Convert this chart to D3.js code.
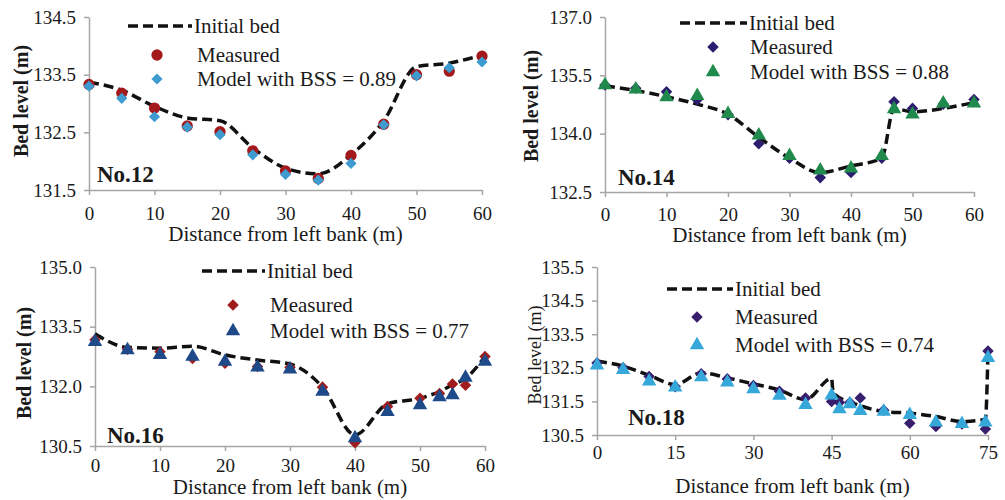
<!DOCTYPE html>
<html>
<head>
<meta charset="utf-8">
<script src="https://cdn.jsdelivr.net/npm/d3@7"></script>
<style>
  body { margin: 0; background: #fff; }
  svg { display: block; }
  svg text { font-family: 'Liberation Serif', 'Times New Roman', serif; }
</style>
</head>
<body>
<svg id="chart" width="1005" height="500"></svg>
<script>
// No.12
const dist12 = [0, 5, 10, 15, 20, 25, 30, 35, 40, 45, 50, 55, 60];
const bed12 = [133.37, 133.23, 132.95, 132.75, 132.7, 132.23, 131.88, 131.78, 132.11, 132.7, 133.64, 133.7, 133.84];
const meas12 = [133.33, 133.18, 132.92, 132.61, 132.51, 132.18, 131.83, 131.7, 132.1, 132.64, 133.5, 133.56, 133.82];
const model12 = [133.3, 133.09, 132.77, 132.59, 132.46, 132.11, 131.77, 131.67, 131.96, 132.63, 133.48, 133.62, 133.72];

// No.14
const dist14 = [0, 5, 10, 15, 20, 25, 30, 35, 40, 45, 47, 50, 55, 60];
const bed14 = [135.23, 135.11, 134.95, 134.76, 134.5, 133.91, 133.37, 133.0, 133.17, 133.37, 134.65, 134.56, 134.65, 134.8];
const meas14 = [135.25, 135.17, 135.08, 134.87, 134.49, 133.74, 133.37, 132.87, 133.0, 133.37, 134.82, 134.65, 134.76, 134.88];
const model14 = [135.25, 135.14, 134.94, 134.97, 134.51, 133.96, 133.43, 133.06, 133.11, 133.43, 134.63, 134.5, 134.78, 134.78];

// No.16
const dist16 = [0, 5, 10, 15, 20, 25, 30, 35, 40, 45, 50, 53, 55, 57, 60];
const bed16 = [133.32, 132.98, 132.96, 133.01, 132.79, 132.66, 132.56, 131.98, 130.78, 131.56, 131.7, 131.87, 132.04, 132.2, 132.75];
const meas16 = [133.17, 132.93, 132.87, 132.7, 132.58, 132.5, 132.48, 131.98, 130.58, 131.49, 131.7, 131.82, 132.06, 132.03, 132.75];
const model16 = [133.12, 132.91, 132.79, 132.75, 132.62, 132.48, 132.43, 131.87, 130.7, 131.36, 131.53, 131.73, 131.78, 132.22, 132.62];

// No.18
const bedDist18 = [0, 5, 10, 15, 20, 25, 30, 35, 40, 45, 45.3, 50, 55, 60, 65, 70, 74.5, 75];
const bed18 = [132.7, 132.55, 132.28, 132.0, 132.35, 132.2, 132.02, 131.84, 131.55, 132.18, 131.75, 131.4, 131.2, 131.15, 131.05, 130.9, 130.97, 133.0];
const dist18 = [0, 5, 10, 15, 20, 25, 30, 35, 40, 45, 46.5, 48.5, 50.5, 55, 60, 65, 70, 74.5, 75];
const meas18 = [132.64, 132.5, 132.24, 131.94, 132.32, 132.17, 131.97, 131.8, 131.6, 131.5, 131.47, 131.47, 131.6, 131.24, 130.85, 130.75, 130.83, 130.68, 133.0];
const model18 = [132.57, 132.44, 132.1, 131.92, 132.22, 132.07, 131.87, 131.67, 131.4, 131.68, 131.27, 131.42, 131.22, 131.2, 131.1, 130.88, 130.83, 130.88, 132.8];

const yTicks12 = [131.5, 132.5, 133.5, 134.5];
const yTicks14 = [132.5, 134.0, 135.5, 137.0];
const yTicks16 = [130.5, 132.0, 133.5, 135.0];
const yTicks18 = [130.5, 131.5, 132.5, 133.5, 134.5, 135.5];
const xTicks60 = [0, 10, 20, 30, 40, 50, 60];
const xTicks75 = [0, 15, 30, 45, 60, 75];

const legendLabels = ['Initial bed', 'Measured'];
const xTitle = 'Distance from left bank (m)';

const serif = "'Liberation Serif', 'Times New Roman', serif";
// square diamond (rotated square) like the spreadsheet marker
const diamond = d3.symbolDiamond2 || d3.symbolDiamond;

const panels = [
  {
    name: 'No.12', bss: '0.89', left: 89, right: 482, top: 17, bottom: 190,
    xMax: 60, xTicks: xTicks60, yMin: 131.5, yMax: 134.5, yTicks: yTicks12,
    bedX: dist12, bed: bed12, ptsX: dist12, meas: meas12, model: model12,
    measShape: d3.symbolCircle, measSize: 100, measColor: '#a3191c',
    modelShape: diamond, modelSize: 80, modelColor: '#3d9bd0',
    xPad: 12, titleY: 234, yTitle: 'Bed level  (m)', yTitleX: 28, yTitleY: 101, yTitleBold: true,
    tag: [97, 182], legend: { x1: 128, x2: 192, y: 26, mx: 157, my: [55, 79], tx: 197 },
  },
  {
    name: 'No.14', bss: '0.88', left: 605, right: 974, top: 17, bottom: 192,
    xMax: 60, xTicks: xTicks60, yMin: 132.5, yMax: 137.0, yTicks: yTicks14,
    bedX: dist14, bed: bed14, ptsX: dist14, meas: meas14, model: model14,
    measShape: diamond, measSize: 85, measColor: '#2d1d6e',
    modelShape: d3.symbolTriangle, modelSize: 90, modelColor: '#1f8a4c',
    xPad: 11, titleY: 235, yTitle: 'Bed level  (m)', yTitleX: 538, yTitleY: 106, yTitleBold: true,
    tag: [618, 185], legend: { x1: 680, x2: 747, y: 23, mx: 713, my: [47, 72], tx: 750 },
  },
  {
    name: 'No.16', bss: '0.77', left: 95, right: 485, top: 267, bottom: 446,
    xMax: 60, xTicks: xTicks60, yMin: 130.5, yMax: 135.0, yTicks: yTicks16,
    bedX: dist16, bed: bed16, ptsX: dist16, meas: meas16, model: model16,
    measShape: diamond, measSize: 85, measColor: '#a11d1d',
    modelShape: d3.symbolTriangle, modelSize: 90, modelColor: '#1f4a8a',
    xPad: 8, titleY: 487, yTitle: 'Bed level  (m)', yTitleX: 31, yTitleY: 363, yTitleBold: true,
    tag: [107, 443], legend: { x1: 202, x2: 265, y: 271, mx: 233, my: [305, 331], tx: 270 },
  },
  {
    name: 'No.18', bss: '0.74', left: 597, right: 988, top: 267, bottom: 435,
    xMax: 75, xTicks: xTicks75, yMin: 130.5, yMax: 135.5, yTicks: yTicks18,
    bedX: bedDist18, bed: bed18, ptsX: dist18, meas: meas18, model: model18,
    measShape: diamond, measSize: 85, measColor: '#3a1e6e',
    modelShape: d3.symbolTriangle, modelSize: 90, modelColor: '#35a7d8',
    xPad: 6, titleY: 486, yTitle: 'Bed level (m)', yTitleX: 541, yTitleY: 355, yTitleBold: false,
    tag: [628, 425], legend: { x1: 667, x2: 733, y: 289, mx: 697, my: [317, 345], tx: 735 },
  },
];

const svg = d3.select('#chart');
const axisColor = '#a6a6a6';

panels.forEach((p) => {
  const x = d3.scaleLinear().domain([0, p.xMax]).range([p.left, p.right]);
  const y = d3.scaleLinear().domain([p.yMin, p.yMax]).range([p.bottom, p.top]);
  const g = svg.append('g');

  const yAxis = g.append('g')
    .attr('transform', `translate(${p.left},0)`)
    .call(d3.axisLeft(y).tickValues(p.yTicks).tickFormat(d3.format('.1f')).tickSize(5).tickSizeOuter(0).tickPadding(8));
  const xAxis = g.append('g')
    .attr('transform', `translate(0,${p.bottom})`)
    .call(d3.axisBottom(x).tickValues(p.xTicks).tickSize(5).tickSizeOuter(0).tickPadding(p.xPad));

  [xAxis, yAxis].forEach((a) => {
    a.attr('font-family', null).attr('font-size', null);
    a.select('.domain').attr('stroke', axisColor).attr('stroke-width', 1.5);
    a.selectAll('.tick line').attr('stroke', axisColor).attr('stroke-width', 1.5);
    a.selectAll('.tick text')
      .style('font-family', serif)
      .style('font-size', '19px')
      .attr('fill', '#1a1a1a');
  });

  g.append('text')
    .attr('x', (p.left + p.right) / 2)
    .attr('y', p.titleY)
    .attr('dy', '0.35em')
    .attr('text-anchor', 'middle')
    .style('font-family', serif)
    .style('font-size', '21px')
    .attr('fill', '#1a1a1a')
    .text(xTitle);

  g.append('text')
    .attr('transform', `translate(${p.yTitleX},${p.yTitleY}) rotate(-90)`)
    .attr('text-anchor', 'middle')
    .style('font-family', serif)
    .style('font-size', p.yTitleBold ? '20px' : '18px')
    .style('font-weight', p.yTitleBold ? 'bold' : 'normal')
    .attr('fill', '#1a1a1a')
    .text(p.yTitle);

  const line = d3.line()
    .x((d) => x(d[0]))
    .y((d) => y(d[1]))
    .curve(d3.curveMonotoneX);

  g.append('path')
    .datum(p.bedX.map((d, i) => [d, p.bed[i]]))
    .attr('fill', 'none')
    .attr('stroke', '#111')
    .attr('stroke-width', 3.5)
    .attr('stroke-dasharray', '10,5')
    .attr('d', line);

  const drawPts = (vals, shape, size, color) => {
    g.append('g').selectAll('path')
      .data(p.ptsX.map((d, i) => [d, vals[i]]))
      .join('path')
      .attr('transform', (d) => `translate(${x(d[0])},${y(d[1])})`)
      .attr('d', d3.symbol().type(shape).size(size))
      .attr('fill', color);
  };
  drawPts(p.meas, p.measShape, p.measSize, p.measColor);
  drawPts(p.model, p.modelShape, p.modelSize, p.modelColor);

  g.append('text')
    .attr('x', p.tag[0])
    .attr('y', p.tag[1])
    .style('font-family', serif)
    .style('font-size', '23px')
    .style('font-weight', 'bold')
    .attr('fill', '#1a1a1a')
    .text(p.name);

  // legend
  const lg = p.legend;
  g.append('line')
    .attr('x1', lg.x1).attr('x2', lg.x2)
    .attr('y1', lg.y).attr('y2', lg.y)
    .attr('stroke', '#111')
    .attr('stroke-width', 3.5)
    .attr('stroke-dasharray', '10,5');
  g.append('path')
    .attr('transform', `translate(${lg.mx},${lg.my[0]})`)
    .attr('d', d3.symbol().type(p.measShape).size(p.measSize))
    .attr('fill', p.measColor);
  g.append('path')
    .attr('transform', `translate(${lg.mx},${lg.my[1]})`)
    .attr('d', d3.symbol().type(p.modelShape).size(p.modelSize))
    .attr('fill', p.modelColor);
  const texts = [legendLabels[0], legendLabels[1], `Model with BSS = ${p.bss}`];
  const ys = [lg.y, lg.my[0], lg.my[1]];
  texts.forEach((t, i) => {
    g.append('text')
      .attr('x', i === 0 ? lg.x2 + 2 : lg.tx)
      .attr('y', ys[i])
      .attr('dy', '0.35em')
      .style('font-family', serif)
      .style('font-size', '21px')
      .attr('fill', '#1a1a1a')
      .text(t);
  });
});
</script>
</body>
</html>
